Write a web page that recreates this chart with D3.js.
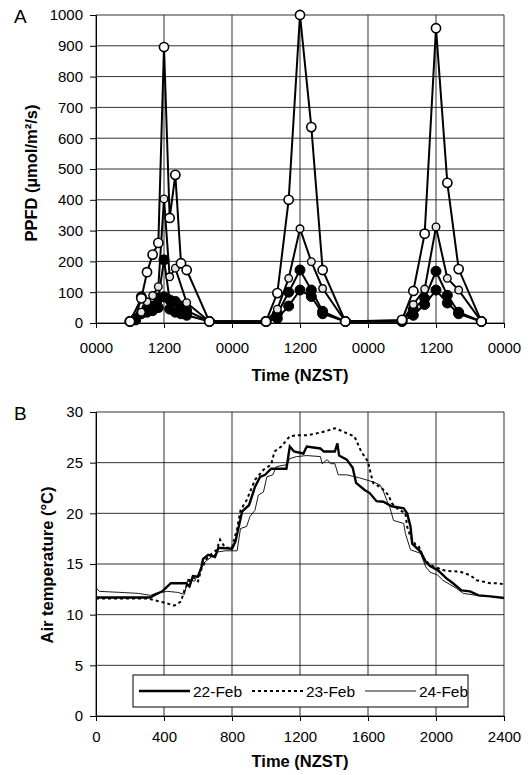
<!DOCTYPE html>
<html>
<head>
<meta charset="utf-8">
<script src="https://d3js.org/d3.v7.min.js"></script>
<style>
  body { margin: 0; background: #fff; }
  svg { display: block; }
  text { font-family: Arial, "Liberation Sans", sans-serif; fill: #000; }
</style>
</head>
<body>
<div id="chart"></div>
<script>
// ---- Panel A data: PPFD, hours since 0000 on day 1 ----
var ppfdHours = [6, 7, 8, 9, 10, 11, 12, 13, 14, 15, 16, 20,
                 30, 32, 34, 36, 38, 40, 44,
                 54, 56, 58, 60, 62, 64, 68];
var ppfdOpenLarge = [5, null, 80, 165, 222, 260, 896, 341, 481, 194, 172, 5,
                     5, 97, 400, 1000, 636, 172, 5,
                     10, 104, 290, 957, 455, 175, 5];
var ppfdOpenSmall = [5, null, 35, 69, 89, 118, 403, 150, 178, null, 66, 5,
                     5, 45, 145, 306, 199, 112, 5,
                     5, 60, 110, 312, 145, 107, 5];
var ppfdFilledA = [5, 15, 85, 50, 55, 80, 205, 75, 70, 55, 40, 5,
                   5, 30, 100, 172, 107, 38, 5,
                   5, 45, 80, 168, 90, 35, 5];
var ppfdFilledB = [5, 10, 30, 35, 40, 50, 85, 45, 35, 30, 25, 5,
                   5, 15, 55, 107, 86, 30, 5,
                   5, 25, 60, 107, 65, 30, 5];
var ppfdTicksY = [0, 100, 200, 300, 400, 500, 600, 700, 800, 900, 1000];
var ppfdTicksX = [0, 12, 24, 36, 48, 60, 72];

// ---- Panel B data: air temperature, decimal hours ----
var feb22Hours = [0, 3.2, 3.4, 3.9, 4.4, 5.3, 5.5, 5.7, 6.0, 6.2, 6.3, 6.6, 7.0, 7.2, 8.0, 8.2, 8.6, 9.0, 9.35, 9.65,
                  9.95, 10.3, 11.2, 11.4, 11.65, 12.2, 12.4, 13.2, 13.4, 14.05, 14.2, 14.3, 14.75, 15.1, 15.3, 15.8,
                  16.1, 16.5, 16.9, 17.4, 18.1, 18.3, 18.5, 18.6, 19.1, 19.4, 19.65, 20.1, 20.6, 21.0, 21.5, 22.0,
                  22.5, 23.2, 24];
var feb22Temp = [11.7, 11.7, 11.9, 12.3, 13.1, 13.1, 12.8, 13.8, 13.75, 14.7, 15.5, 15.9, 15.7, 16.6, 16.5, 17.2, 20.2, 20.8, 22.6, 23.6,
                 23.8, 24.4, 24.4, 26.6, 26.1, 25.9, 26.6, 26.4, 26.1, 26.1, 26.9, 25.7, 25.3, 24.5, 23.0, 22.3,
                 22.0, 21.2, 21.15, 20.7, 20.5, 20.0, 18.7, 17.0, 16.2, 15.2, 14.8, 14.4, 13.6, 13.1, 12.4, 12.3,
                 11.9, 11.8, 11.65];
var feb23Hours = [0, 3.0, 3.5, 4.0, 4.6, 5.0, 5.2, 5.5, 5.7, 6.0, 6.2, 6.5, 6.8, 7.1, 7.3, 7.6, 8.0, 8.3, 8.5, 8.86,
                  9.35, 9.85, 10.3, 10.5, 10.9, 11.4, 11.8, 12.4, 13.0, 13.5, 14.05, 14.35, 14.75, 15.2, 15.6, 16.0,
                  16.15, 16.3, 16.8, 17.2, 17.4, 17.7, 18.2, 18.3, 18.5, 18.8, 19.0, 19.25, 19.65, 20.1, 20.4, 20.8,
                  21.4, 22.0, 22.4, 23.2, 23.6, 24];
var feb23Temp = [11.6, 11.6, 11.4, 11.2, 10.9, 11.3, 12.4, 13.4, 13.7, 13.3, 14.5, 15.5, 16.0, 16.4, 17.4, 16.6, 16.6, 18.5, 20.3, 21.3,
                 23.3, 24.3, 24.8, 26.1, 26.6, 27.6, 27.7, 27.7, 27.9, 28.1, 28.4, 28.2, 27.9, 27.6, 26.1, 25.1,
                 24.0, 23.0, 22.5, 21.8, 21.0, 20.5, 20.0, 18.7, 17.7, 16.9, 16.7, 15.6, 14.9, 14.6, 14.4, 14.3,
                 14.25, 13.9, 13.4, 13.1, 13.1, 13.0];
var feb24Hours = [0, 0.2, 1.4, 2.5, 3.2, 3.5, 4.2, 4.8, 5.2, 5.4, 5.8, 6.1, 6.4, 6.8, 7.2, 7.6, 8.3, 8.5, 8.86, 9.06,
                  9.35, 9.55, 9.85, 10.05, 10.4, 10.6, 11.2, 11.4, 11.8, 12.4, 13.2, 13.3, 13.6, 13.8, 14.05, 14.25,
                  14.75, 15.5, 16.3, 16.7, 16.9, 17.1, 17.3, 17.5, 18.1, 18.2, 18.5, 19.1, 19.4, 19.65, 20.1, 20.4,
                  21.2, 21.6, 22.4, 23.8, 24];
var feb24Temp = [12.66, 12.3, 12.2, 12.1, 11.9, 12.1, 12.3, 12.2, 12.0, 13.5, 13.3, 14.3, 15.2, 15.7, 16.2, 16.3, 16.3, 18.5, 18.7, 19.7,
                 20.3, 21.8, 22.1, 23.6, 23.8, 24.6, 24.8, 25.4, 25.6, 25.7, 25.6, 24.9, 25.3, 24.9, 24.9, 23.8,
                 23.8, 23.5, 23.1, 22.8, 22.2, 21.3, 20.5, 19.3, 19.0, 18.0, 16.4, 16.05, 14.7, 14.2, 13.9, 13.4,
                 12.6, 12.1, 11.9, 11.7, 11.7];
var tempTicksY = [0, 5, 10, 15, 20, 25, 30];
var tempTicksX = [0, 4, 8, 12, 16, 20, 24];
var legendLabels = ["22-Feb", "23-Feb", "24-Feb"];

var W = 530, H = 775;
var svg = d3.select("#chart").append("svg").attr("width", W).attr("height", H);

function zip(xs, ys) {
    return xs.map((x, i) => ({ x: x, y: ys[i] })).filter(d => d.y != null);
}

function drawFrame(g, x, y, xTicks, yTicks, xFmt, xPad) {
    // gridlines
    g.selectAll(".hgrid").data(yTicks).enter().append("line")
        .attr("x1", x.range()[0]).attr("x2", x.range()[1])
        .attr("y1", d => y(d)).attr("y2", d => y(d))
        .style("stroke", "#1a1a1a").style("stroke-width", 0.9);
    g.selectAll(".vgrid").data(xTicks).enter().append("line")
        .attr("x1", d => x(d)).attr("x2", d => x(d))
        .attr("y1", y.range()[0]).attr("y2", y.range()[1])
        .style("stroke", "#1a1a1a").style("stroke-width", 0.9);

    var yAxis = g.append("g")
        .attr("transform", `translate(${x.range()[0]},0)`)
        .call(d3.axisLeft(y).tickValues(yTicks).tickSize(6).tickPadding(7).tickFormat(d3.format("d")));
    var xAxis = g.append("g")
        .attr("transform", `translate(0,${y.range()[0]})`)
        .call(d3.axisBottom(x).tickValues(xTicks).tickSize(5).tickPadding(xPad).tickFormat(xFmt));
    [yAxis, xAxis].forEach(a => {
        a.selectAll("path, line").style("stroke", "#000").style("stroke-width", 1);
        a.selectAll("text").style("font-size", "15px").style("font-family", "Arial, 'Liberation Sans', sans-serif");
    });
}

// ---------------- Panel A ----------------
var xA = d3.scaleLinear().domain([0, 72]).range([96, 504]);
var yA = d3.scaleLinear().domain([0, 1000]).range([323, 15]);
var gA = svg.append("g");
drawFrame(gA, xA, yA, ppfdTicksX, ppfdTicksY, d => (d % 24 === 0 ? "0000" : "1200"), 14);

var lineA = d3.line().x(d => xA(d.x)).y(d => yA(d.y));
var ppfdSeries = [
    { values: ppfdFilledB, r: 5, fill: "#000", sw: 1 },
    { values: ppfdFilledA, r: 5, fill: "#000", sw: 1 },
    { values: ppfdOpenSmall, r: 3.8, fill: "#e4e4e4", sw: 1.4 },
    { values: ppfdOpenLarge, r: 4.6, fill: "#fff", sw: 1.6 }
];
ppfdSeries.forEach(s => {
    gA.append("path").datum(zip(ppfdHours, s.values))
        .attr("d", lineA)
        .style("fill", "none").style("stroke", "#000").style("stroke-width", 2);
});
ppfdSeries.forEach(s => {
    gA.selectAll(null).data(zip(ppfdHours, s.values)).enter().append("circle")
        .attr("cx", d => xA(d.x)).attr("cy", d => yA(d.y)).attr("r", s.r)
        .style("fill", s.fill).style("stroke", "#000").style("stroke-width", s.sw);
});

gA.append("text").attr("x", 14).attr("y", 23).style("font-size", "19px").text("A");
gA.append("text")
    .attr("transform", "translate(37,173) rotate(-90)")
    .attr("text-anchor", "middle")
    .style("font-size", "16.5px").style("font-weight", "bold")
    .text("PPFD (\u00b5mol/m\u00b2/s)");
gA.append("text").attr("x", 300).attr("y", 381).attr("text-anchor", "middle")
    .style("font-size", "16.5px").style("font-weight", "bold").text("Time (NZST)");

// ---------------- Panel B ----------------
var xB = d3.scaleLinear().domain([0, 24]).range([96, 504]);
var yB = d3.scaleLinear().domain([0, 30]).range([716, 412]);
var gB = svg.append("g");
drawFrame(gB, xB, yB, tempTicksX, tempTicksY, d => String(d * 100), 10);

var lineB = d3.line().x(d => xB(d.x)).y(d => yB(d.y));
var tempSeries = [
    { pts: zip(feb24Hours, feb24Temp), sw: 0.9, dash: null },
    { pts: zip(feb23Hours, feb23Temp), sw: 2, dash: "3,3" },
    { pts: zip(feb22Hours, feb22Temp), sw: 2.4, dash: null }
];
tempSeries.forEach(s => {
    gB.append("path").datum(s.pts).attr("d", lineB)
        .style("fill", "none").style("stroke", "#000")
        .style("stroke-width", s.sw)
        .style("stroke-dasharray", s.dash);
});

// legend
var legend = gB.append("g");
legend.append("rect").attr("x", 133).attr("y", 675).attr("width", 335).attr("height", 32)
    .style("fill", "#fff").style("stroke", "#000").style("stroke-width", 1);
var legendStyles = [{ sw: 2.4, dash: null }, { sw: 2, dash: "3,3" }, { sw: 0.9, dash: null }];
legendLabels.forEach((lab, i) => {
    var x0 = 139 + i * 113;
    legend.append("line").attr("x1", x0).attr("x2", x0 + 51).attr("y1", 691).attr("y2", 691)
        .style("stroke", "#000").style("stroke-width", legendStyles[i].sw)
        .style("stroke-dasharray", legendStyles[i].dash);
    legend.append("text").attr("x", x0 + 54).attr("y", 697).style("font-size", "15.5px").text(lab);
});

gB.append("text").attr("x", 14).attr("y", 420).style("font-size", "19px").text("B");
gB.append("text")
    .attr("transform", "translate(53,565) rotate(-90)")
    .attr("text-anchor", "middle")
    .style("font-size", "16.5px").style("font-weight", "bold")
    .text("Air temperature (\u00b0C)");
gB.append("text").attr("x", 300).attr("y", 767).attr("text-anchor", "middle")
    .style("font-size", "16.5px").style("font-weight", "bold").text("Time (NZST)");
</script>
</body>
</html>
